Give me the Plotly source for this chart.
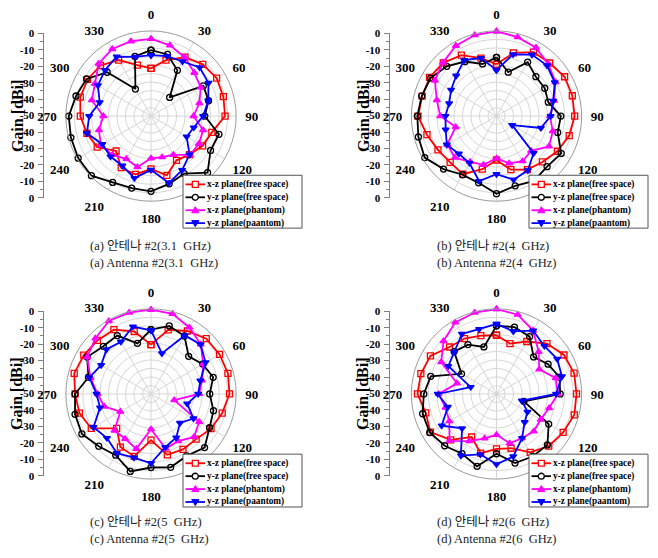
import plotly.graph_objects as go

W, H = 658, 558
THETA = list(range(0, 360, 15))
ANGLE_TICKS = list(range(0, 360, 30))
# the 150 label sits under the legend box in the reference, so it is left blank
ANGLE_LABELS = ["" if t == 150 else str(t) for t in ANGLE_TICKS]

SERIES_NAMES = ["x-z plane(free space)", "y-z plane(free space)",
                "x-z plane(phantom)", "y-z plane(paantom)"]
COLORS = ["#ff0000", "#000000", "#ff00ff", "#0000ff"]
SYMBOLS = ["square-open", "circle-open", "triangle-up", "triangle-down"]

GAIN_TICKVALS = [-50, -40, -30, -20, -10, 0, 10, 20, 30, 40, 50]
GAIN_TICKTEXT = ["0", "-10", "-20", "-30", "-40", "-50", "-40", "-30", "-20", "-10", "0"]

# ---- (a) 3.1 GHz ----
A_XZ_FREE = [-22, -16, -10, -7, -5.5, -6, -6.5, -13, -15, -18, -20, -14,
             -19, -14.5, -15, -21, -13.5, -11, -8.5, -7, -7, -8, -12, -19]
A_YZ_FREE = [-11.3, -12.5, -19, -34.5, -14.5, -15, -18.4, -8.7, -9.6, -3, -11, -8.8,
             -5.8, -6.2, -5, -0.5, -0.6, -1.3, -1.7, -4.4, -6.3, -13.6, -31.7, -13.7]
A_XZ_PH = [-4.7, -7, -10.2, -14, -16.3, -20.6, -25, -18.3, -17.5, -17.7, -23.7, -25,
           -25.2, -19, -21, -17.8, -16, -18.3, -22, -14, -12, -6.5, -4.5, -4.5]
A_YZ_PH = [-14.2, -13.5, -13, -9.6, -11, -15.2, -19.4, -24, -25.8, -18, -13.4, -9.3,
           -18.4, -12.3, -16.3, -16.4, -17, -11, -13.7, -18.8, -14, -11.8, -9.7, -14]

# ---- (b) 4 GHz ----
B_XZ_FREE = [-19.6, -11.6, -6.6, -5.9, -3.8, -3.9, -4.1, -5.8, -8.7, -11.9, -13.7, -17.4,
             -24.2, -17.7, -10.6, -11.5, -10.3, -7.7, -3.9, -4.8, -4.6, -5.8, -8.7, -14.7]
B_YZ_FREE = [-15.5, -23.3, -13.4, -17.3, -17.3, -18.5, -12.2, -12.8, -6.1, -8, -6, -7.6,
             -4.4, -9.4, -10.2, -6, -1.3, -2.5, -3.5, -4.5, -5.3, -8.7, -13, -18.3]
B_XZ_PH = [-0.2, -2, -3.6, -7, -10, -15, -18.6, -15.8, -14.4, -21.2, -19.4, -21.3,
           -25.2, -20.4, -19, -15.5, -16.6, -25.2, -17, -13.7, -8.2, -5.5, -2.3, -0.7]
B_YZ_PH = [-23, -12.5, -8.3, -8, -10.5, -15.5, -18.2, -23, -39.4, -19.2, -13.2, -11.3,
           -15.9, -10.5, -18.2, -18.7, -16.3, -19.1, -20, -21.2, -19.2, -16.5, -12.1, -14.7]

# ---- (c) 5 GHz ----
C_XZ_FREE = [-21, -11, -7.3, -4.1, -3.5, -3.2, -3.9, -6.7, -9.3, -12.5, -12.4, -13,
             -22.9, -12, -14, -21.5, -9.5, -6.5, -5.4, -3.3, -4.4, -5.5, -6.4, -12]
C_YZ_FREE = [-12.2, -8.6, -10.7, -18.7, -14.9, -12.2, -15.5, -12, -10.3, -5.5, -8, -5.4,
             -6.8, -2.9, -8.5, -6.6, -3.1, -3.8, -5.4, -12, -6.7, -10.4, -10.4, -19.2]
C_XZ_PH = [-0.5, -1.3, -4.9, -8.7, -14.6, -19, -21.7, -35.9, -17.3, -14.3, -18, -16.8,
           -29.3, -16.6, -19.6, -19.6, -29.2, -21.6, -18.6, -13.2, -6.7, -3.8, -0.5, -0.5]
C_YZ_PH = [-12.6, -25.3, -10.3, -8.8, -13, -20, -22.3, -28, -21.2, -25.9, -20.4, -17.6,
           -9.3, -11.3, -9.9, -13.4, -11, -19, -18, -12.5, -16.2, -13, -14.6, -9]

# ---- (d) 6 GHz ----
D_XZ_FREE = [-15.5, -19.4, -14.4, -8.1, -4.2, -2.8, -3, -2.7, -4.8, -6.6, -10.4, -17,
             -17.8, -14, -20.8, -11.9, -5.2, -7, -3.6, -4, -5.2, -11, -12.4, -14.5]
D_YZ_FREE = [-10, -9.3, -11.1, -19.2, -15, -11.7, -12.6, -33.3, -14.6, -7.7, -7.6, -8,
             -14.9, -6, -9.5, -7, -4.7, -5.1, -7.3, -10, -26.3, -14.8, -16.5, -21.4]
D_XZ_PH = [-0.2, -1.8, -7, -15, -21, -14, -14, -18, -20, -19, -20, -20,
           -26, -23, -18, -11, -18, -19, -16, -26, -12.5, -6, -1.5, -0.5]
D_YZ_PH = [-8.8, -11.9, -7, -10.2, -8.8, -10.2, -15, -34.6, -29, -26.6, -20, -12,
           -8.7, -13.3, -8.2, -21.4, -12.8, -20.4, -15.5, -34.3, -17.3, -15, -9.3, -10.6]

PANEL_DATA = [
    [A_XZ_FREE, A_YZ_FREE, A_XZ_PH, A_YZ_PH],
    [B_XZ_FREE, B_YZ_FREE, B_XZ_PH, B_YZ_PH],
    [C_XZ_FREE, C_YZ_FREE, C_XZ_PH, C_YZ_PH],
    [D_XZ_FREE, D_YZ_FREE, D_XZ_PH, D_YZ_PH],
]
CAPTIONS_KO = ["(a) 안테나 #2(3.1\u00a0 GHz)", "(b) 안테나 #2(4\u00a0 GHz)",
               "(c) 안테나 #2(5\u00a0 GHz)", "(d) 안테나 #2(6\u00a0 GHz)"]
CAPTIONS_EN = ["(a) Antenna #2(3.1\u00a0 GHz)", "(b) Antenna #2(4\u00a0 GHz)",
               "(c) Antenna #2(5\u00a0 GHz)", "(d) Antenna #2(6\u00a0 GHz)"]

# layout geometry (pixels)
R = 87
LAYOUT = [
    dict(cx=151, cy=112.5, axx=43.5, ax_top=28, ax_bot=196, gx=17, lx=183, ly=173, capx=90, capy=245),
    dict(cx=496.5, cy=112.5, axx=389.5, ax_top=28, ax_bot=196, gx=363, lx=529, ly=173, capx=437, capy=245),
    dict(cx=151, cy=396.5, axx=43.5, ax_top=312, ax_bot=480, gx=17, lx=183, ly=458, capx=90, capy=527),
    dict(cx=496.5, cy=396.5, axx=389.5, ax_top=312, ax_bot=480, gx=363, lx=529, ly=458, capx=437, capy=527),
]

SERIF = "Liberation Serif, Times New Roman, serif"
CAPFONT = "Liberation Serif, Noto Sans CJK KR, serif"


def px(x):
    return x / W


def py(y):
    return 1 - y / H


fig = go.Figure()
shapes = []
annotations = []
layout_extra = {}

for i, (g, data) in enumerate(zip(LAYOUT, PANEL_DATA)):
    pid = "polar" if i == 0 else f"polar{i+1}"
    for k in range(4):
        vals = data[k]
        fig.add_trace(go.Scatterpolar(
            r=vals + [vals[0]], theta=THETA + [THETA[0]],
            mode="lines+markers", subplot=pid, name=SERIES_NAMES[k],
            showlegend=False,
            line=dict(color=COLORS[k], width=1.8),
            marker=dict(symbol=SYMBOLS[k], size=6, color=COLORS[k],
                        line=dict(color=COLORS[k], width=1.3)),
        ))
    layout_extra[pid] = dict(
        domain=dict(x=[px(g["cx"] - R), px(g["cx"] + R)],
                    y=[py(g["cy"] + R), py(g["cy"] - R)]),
        bgcolor="white",
        angularaxis=dict(
            rotation=90, direction="clockwise", tickmode="array",
            tickvals=ANGLE_TICKS, ticktext=ANGLE_LABELS,
            showline=True, linecolor="#9a9a9a", linewidth=1,
            gridcolor="#d6d6d6", gridwidth=1,
            ticks="outside", ticklen=6, tickcolor="rgba(0,0,0,0)",
            tickfont=dict(family=SERIF, size=13, color="black", weight="bold"),
        ),
        radialaxis=dict(
            range=[-50, 0], tickmode="linear", tick0=-50, dtick=5,
            showticklabels=False, ticks="", showline=False,
            gridcolor="#d6d6d6", gridwidth=1,
        ),
    )

    # linear Gain axis
    xa = "xaxis" if i == 0 else f"xaxis{i+1}"
    ya = "yaxis" if i == 0 else f"yaxis{i+1}"
    xr = "x" if i == 0 else f"x{i+1}"
    yr = "y" if i == 0 else f"y{i+1}"
    fig.add_trace(go.Scatter(x=[None], y=[None], xaxis=xr, yaxis=yr,
                             showlegend=False, hoverinfo="skip"))
    layout_extra[xa] = dict(domain=[px(g["axx"]), px(g["axx"] + 5)], visible=False,
                            range=[0, 1], anchor=yr)
    layout_extra[ya] = dict(
        domain=[py(g["ax_bot"]), py(g["ax_top"])], anchor=xr, range=[-50, 50],
        tickmode="array", tickvals=GAIN_TICKVALS, ticktext=GAIN_TICKTEXT,
        ticks="outside", ticklen=5, tickcolor="#808080", tickwidth=1,
        showline=True, linecolor="#808080", linewidth=1,
        showgrid=False, zeroline=False,
        minor=dict(tickmode="linear", tick0=-45, dtick=10, ticks="outside",
                   ticklen=3, tickcolor="#808080", showgrid=False),
        tickfont=dict(family=SERIF, size=11, color="black", weight="bold"),
        ticklabelstandoff=1,
    )

    annotations.append(dict(
        x=px(g["gx"]), y=py(g["cy"]), xref="paper", yref="paper",
        text="<b>Gain [dBi]</b>", textangle=-90, showarrow=False,
        font=dict(family=SERIF, size=16, color="black"),
        xanchor="center", yanchor="middle"))

    # legend box
    lx, ly = g["lx"], g["ly"]
    lw, lh = 119, 54
    shapes.append(dict(type="rect", xref="paper", yref="paper",
                       x0=px(lx), x1=px(lx + lw), y0=py(ly + lh), y1=py(ly),
                       fillcolor="white", line=dict(color="#555555", width=1),
                       layer="above"))
    for k in range(4):
        rowy = ly + 9.3 + k * 13.2
        shapes.append(dict(type="line", xref="paper", yref="paper",
                           x0=px(lx + 2.5), x1=px(lx + 22), y0=py(rowy), y1=py(rowy),
                           line=dict(color=COLORS[k], width=1.8), layer="above"))
        mx = lx + 12.3
        s = 3
        if k == 0:
            shapes.append(dict(type="rect", xref="paper", yref="paper",
                               x0=px(mx - s), x1=px(mx + s), y0=py(rowy + s), y1=py(rowy - s),
                               fillcolor="white", line=dict(color=COLORS[k], width=1.3),
                               layer="above"))
        elif k == 1:
            shapes.append(dict(type="circle", xref="paper", yref="paper",
                               x0=px(mx - s), x1=px(mx + s), y0=py(rowy + s), y1=py(rowy - s),
                               fillcolor="white", line=dict(color=COLORS[k], width=1.3),
                               layer="above"))
        else:
            sgn = -1 if k == 2 else 1
            path = (f"M {px(mx)},{py(rowy + sgn * 3.6)} "
                    f"L {px(mx + 3.6)},{py(rowy - sgn * 2.6)} "
                    f"L {px(mx - 3.6)},{py(rowy - sgn * 2.6)} Z")
            shapes.append(dict(type="path", xref="paper", yref="paper", path=path,
                               fillcolor=COLORS[k], line=dict(color=COLORS[k], width=1),
                               layer="above"))
        annotations.append(dict(
            x=px(lx + 23.5), y=py(rowy), xref="paper", yref="paper",
            text=f"<b>{SERIES_NAMES[k]}</b>", showarrow=False,
            font=dict(family=SERIF, size=9.3, color="black"),
            xanchor="left", yanchor="middle", borderpad=0, borderwidth=0))

    # captions
    annotations.append(dict(
        x=px(g["capx"]), y=py(g["capy"]), xref="paper", yref="paper",
        text=CAPTIONS_KO[i], showarrow=False,
        font=dict(family=CAPFONT, size=12.5, color="#222222"),
        xanchor="left", yanchor="middle", borderpad=0, borderwidth=0))
    annotations.append(dict(
        x=px(g["capx"]), y=py(g["capy"] + 17.5), xref="paper", yref="paper",
        text=CAPTIONS_EN[i], showarrow=False,
        font=dict(family=CAPFONT, size=12.5, color="#222222"),
        xanchor="left", yanchor="middle", borderpad=0, borderwidth=0))

fig.update_layout(
    width=W, height=H, margin=dict(l=0, r=0, t=0, b=0),
    paper_bgcolor="white", plot_bgcolor="rgba(0,0,0,0)",
    showlegend=False, shapes=shapes, annotations=annotations,
    **layout_extra,
)

fig.write_html("out.html")
